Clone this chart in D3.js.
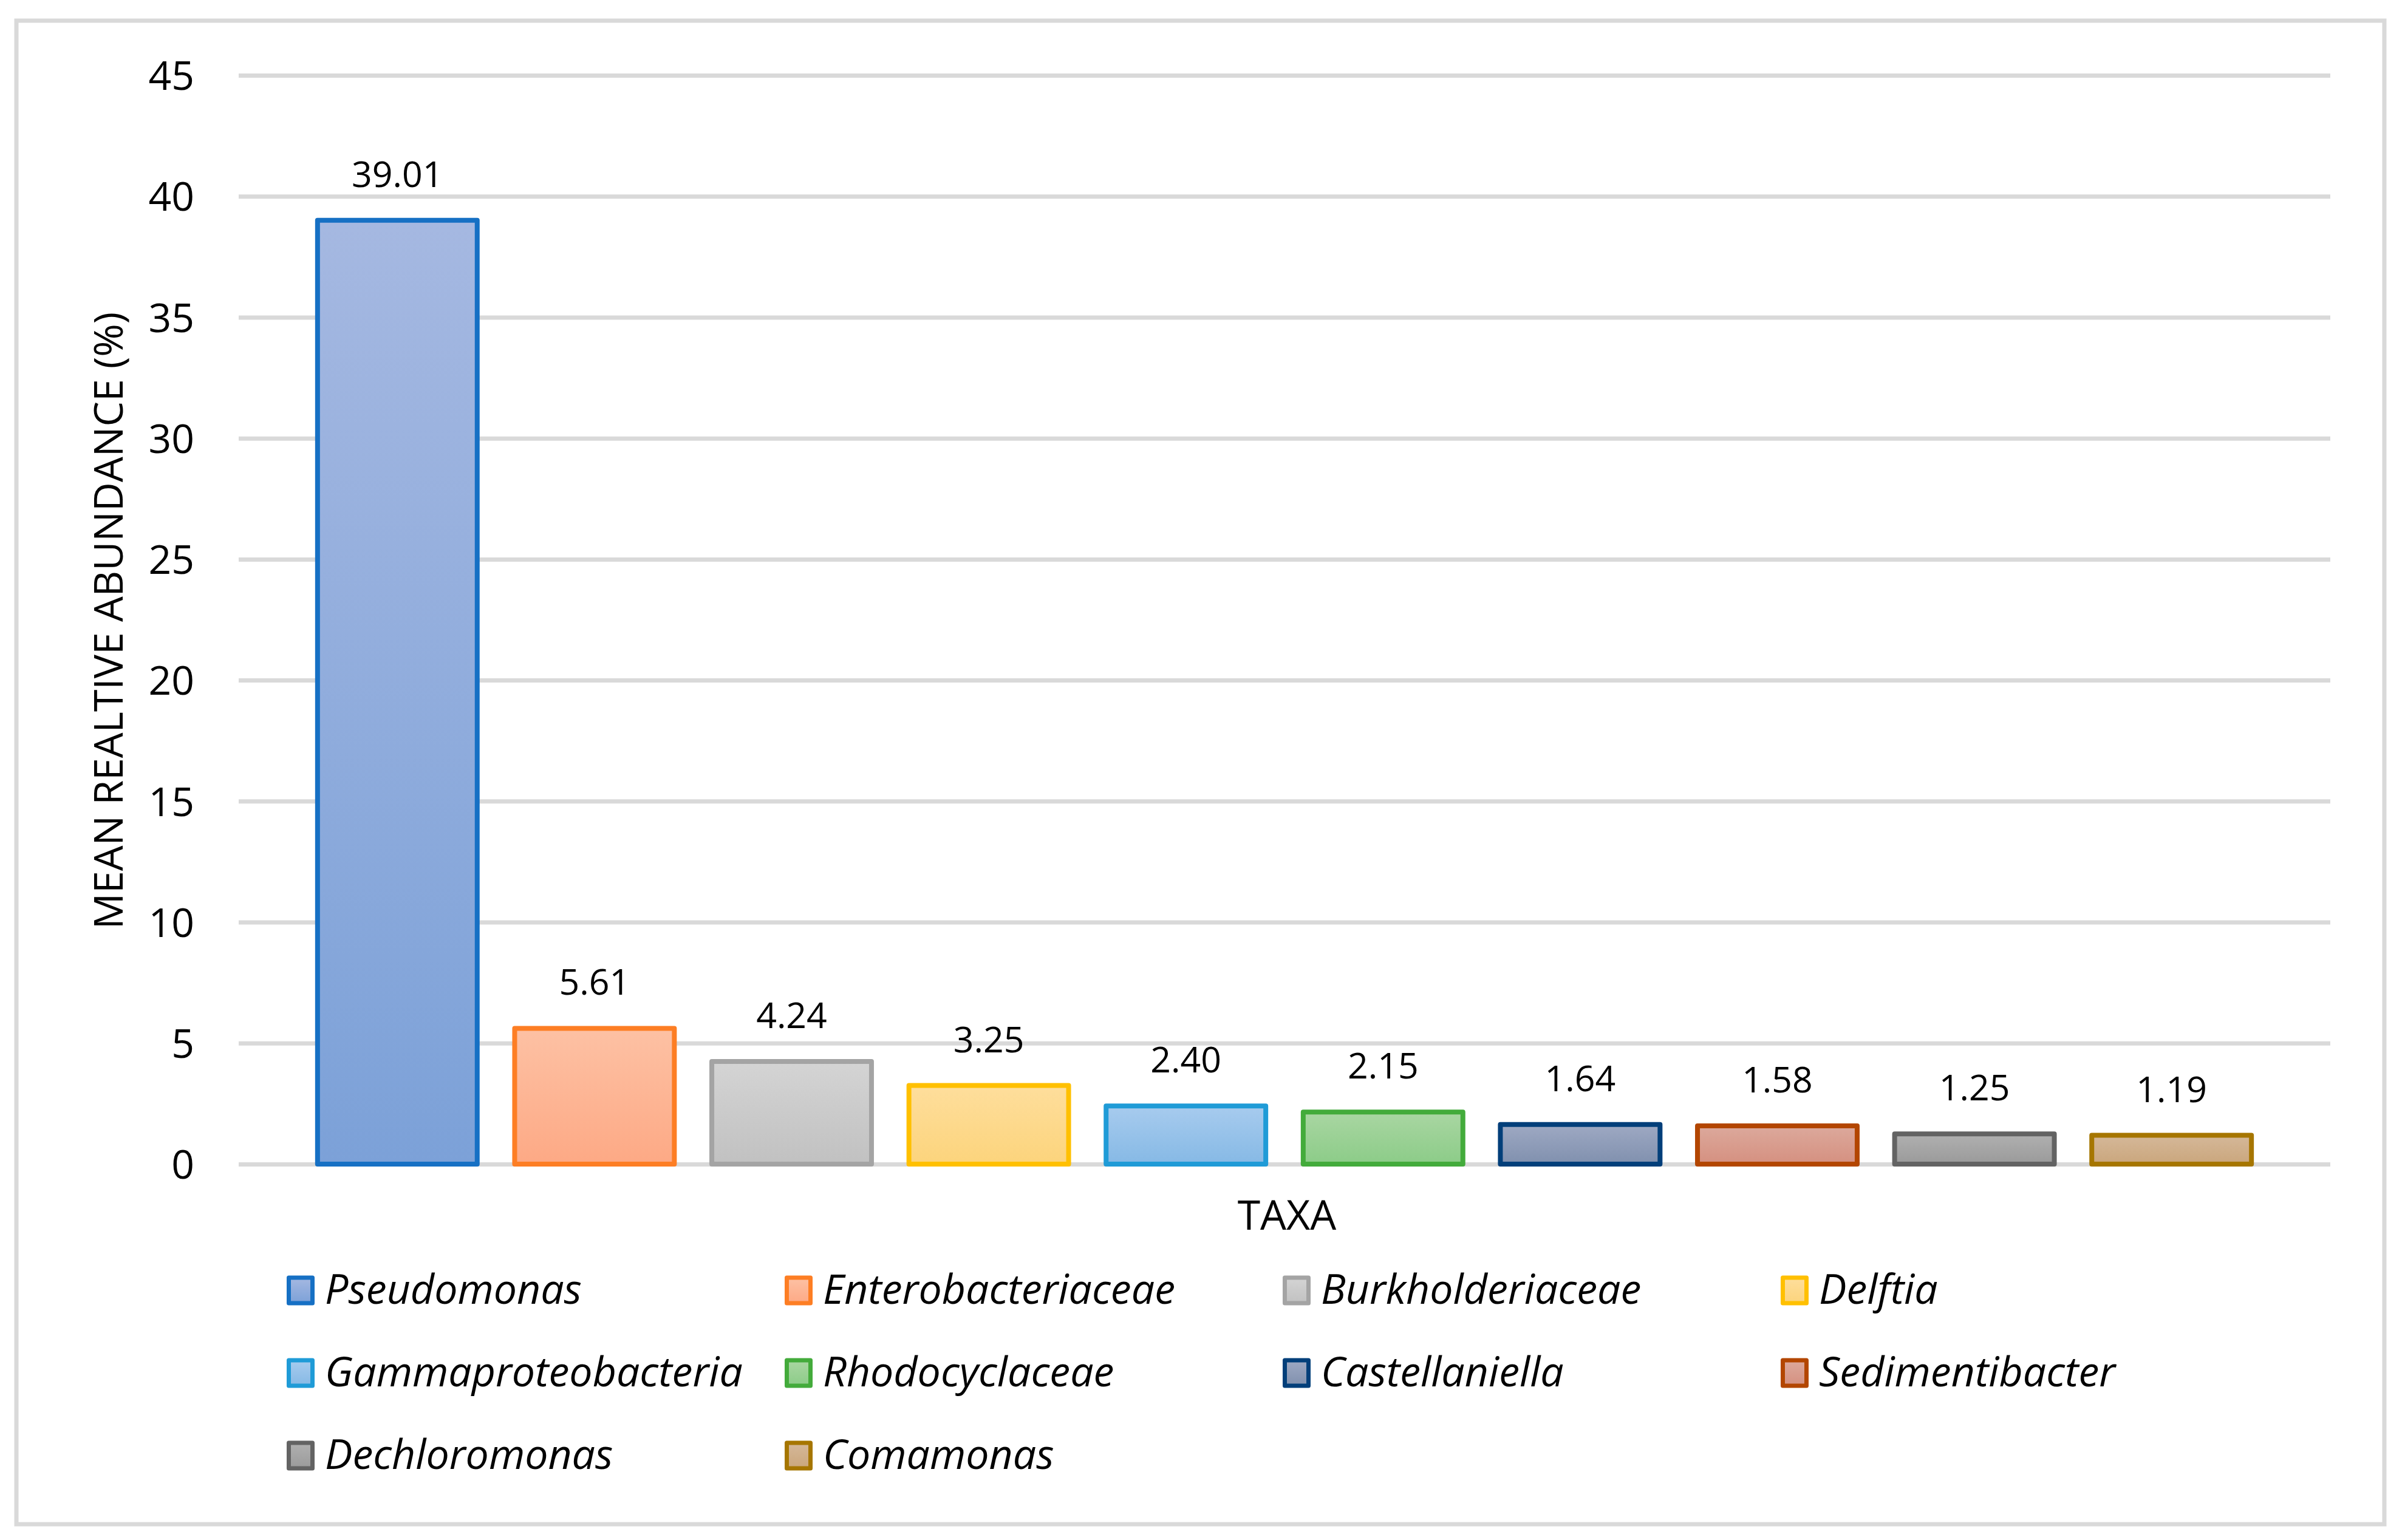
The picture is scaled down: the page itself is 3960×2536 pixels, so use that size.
<!DOCTYPE html>
<html>
<head>
<meta charset="utf-8">
<script src="https://cdn.jsdelivr.net/npm/d3@7"></script>
<style>
  html, body { margin: 0; padding: 0; background: white; }
  text { font-family: "Open Sans", sans-serif; fill: #000; }
</style>
</head>
<body>
<svg id="chart" width="3960" height="2536"></svg>
<script>
// data
var taxa = ["Pseudomonas", "Enterobacteriaceae", "Burkholderiaceae", "Delftia",
	"Gammaproteobacteria", "Rhodocyclaceae", "Castellaniella", "Sedimentibacter",
	"Dechloromonas", "Comamonas"];
var abundance = [39.01, 5.61, 4.24, 3.25, 2.40, 2.15, 1.64, 1.58, 1.25, 1.19];
var yTicks = [0, 5, 10, 15, 20, 25, 30, 35, 40, 45];

var strokeColors = ["#1670c4", "#fd7e24", "#a4a4a4", "#ffc000", "#1f9bd7",
	"#43ab3b", "#023f7a", "#b34600", "#636363", "#a67600"];
var fillTop = ["#a5b8e1", "#fdc1a4", "#d4d4d4", "#fede9c", "#a7cbee",
	"#a9d6a2", "#9ea9c3", "#dca99c", "#b0b0b0", "#d5b899"];
var fillBottom = ["#7ca1d8", "#fda985", "#c1c1c1", "#fcd47c", "#86b9e5",
	"#8ccc88", "#8090ae", "#d59080", "#9a9a9a", "#caa67c"];

var svg = d3.select("#chart"),
	plotLeft = 393,
	plotRight = 3837;

// outer chart border
svg.append("rect")
	.attr("x", 27).attr("y", 34)
	.attr("width", 3899).attr("height", 2476)
	.attr("fill", "white")
	.attr("stroke", "#d9d9d9")
	.attr("stroke-width", 7);

var defs = svg.append("defs");
taxa.forEach(function (t, i) {
	var grad = defs.append("linearGradient")
		.attr("id", "grad" + i)
		.attr("x1", 0).attr("y1", 0).attr("x2", 0).attr("y2", 1);
	grad.append("stop").attr("offset", "0%").attr("stop-color", fillTop[i]);
	grad.append("stop").attr("offset", "100%").attr("stop-color", fillBottom[i]);
});

var x = d3.scaleBand()
	.domain(taxa)
	.range([plotLeft, plotRight])
	.paddingInner(0.19)
	.paddingOuter(0.4);

var y = d3.scaleLinear()
	.domain([0, 45])
	.range([1917, 124]);

// gridlines + tick labels
var yAxis = svg.append("g")
	.attr("transform", "translate(" + plotLeft + ",0)")
	.call(d3.axisLeft(y)
		.tickValues(yTicks)
		.tickSize(-(plotRight - plotLeft))
		.tickPadding(73));

yAxis.select(".domain").remove();
yAxis.selectAll(".tick line")
	.attr("stroke", "#d9d9d9")
	.attr("stroke-width", 7);
yAxis.selectAll(".tick text")
	.attr("dy", "0.36em")
	.style("font-family", "'Open Sans', sans-serif")
	.style("font-size", "66px");

// bars
svg.append("g").selectAll("rect")
	.data(taxa)
	.enter().append("rect")
	.attr("x", function (d) { return x(d); })
	.attr("y", function (d, i) { return y(abundance[i]); })
	.attr("width", x.bandwidth())
	.attr("height", function (d, i) { return y(0) - y(abundance[i]); })
	.attr("fill", function (d, i) { return "url(#grad" + i + ")"; })
	.attr("stroke", function (d, i) { return strokeColors[i]; })
	.attr("stroke-width", 8)
	.attr("stroke-linejoin", "round");

// value labels
svg.append("g").selectAll("text")
	.data(taxa)
	.enter().append("text")
	.attr("x", function (d) { return x(d) + x.bandwidth() / 2; })
	.attr("y", function (d, i) { return y(abundance[i]) - 55; })
	.attr("text-anchor", "middle")
	.style("font-size", "59px")
	.text(function (d, i) { return abundance[i].toFixed(2); });

// axis titles
svg.append("text")
	.attr("transform", "translate(202,1022) rotate(-90)")
	.attr("text-anchor", "middle")
	.style("font-size", "66px")
	.text("MEAN REALTIVE ABUNDANCE (%)");

svg.append("text")
	.attr("x", 2119)
	.attr("y", 2025)
	.attr("text-anchor", "middle")
	.style("font-size", "68px")
	.text("TAXA");

// legend
var legend = svg.append("g").selectAll("g")
	.data(taxa)
	.enter().append("g")
	.attr("transform", function (d, i) {
		return "translate(" + (472 + (i % 4) * 820) + "," + (2125 + Math.floor(i / 4) * 136) + ")";
	});

legend.append("rect")
	.attr("x", 3.5).attr("y", -21)
	.attr("width", 39).attr("height", 42)
	.attr("fill", function (d, i) { return "url(#grad" + i + ")"; })
	.attr("stroke", function (d, i) { return strokeColors[i]; })
	.attr("stroke-width", 7)
	.attr("stroke-linejoin", "round");

legend.append("text")
	.attr("x", 63)
	.attr("y", 22)
	.style("font-size", "68px")
	.style("font-style", "italic")
	.text(function (d) { return d; });
</script>
</body>
</html>
